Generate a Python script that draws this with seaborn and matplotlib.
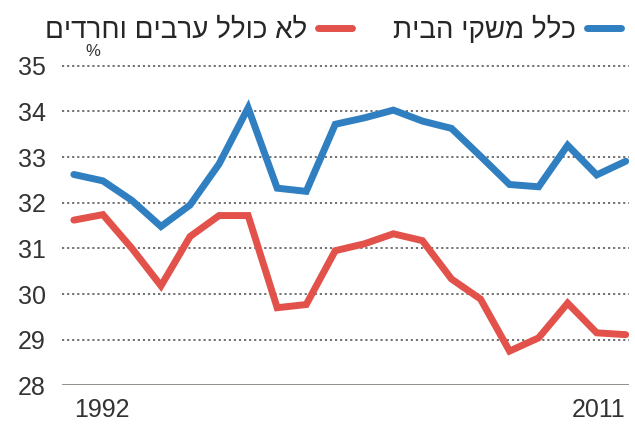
import pandas as pd
import matplotlib.pyplot as plt
import seaborn as sns

# values (percent)
years = list(range(1992, 2012))
all_households = [32.62, 32.48, 32.05, 31.48, 31.95, 32.85, 34.08, 32.32, 32.25, 33.72,
                  33.86, 34.03, 33.79, 33.63, 33.02, 32.40, 32.35, 33.26, 32.61, 32.91]
excl_arabs_haredim = [31.62, 31.74, 31.0, 30.18, 31.26, 31.72, 31.72, 29.70, 29.77, 30.95,
                      31.10, 31.32, 31.17, 30.33, 29.89, 28.75, 29.04, 29.80, 29.15, 29.11]
label_all = 'כלל משקי הבית'
label_excl = 'לא כולל ערבים וחרדים'
y_ticks = [28, 29, 30, 31, 32, 33, 34, 35]


def rtl(s):
    # matplotlib has no bidi support, so flip the Hebrew text by hand
    return s[::-1]


df = pd.DataFrame({
    'year': years * 2,
    'value': all_households + excl_arabs_haredim,
    'series': [rtl(label_all)] * len(years) + [rtl(label_excl)] * len(years),
})

sns.set_style('white')
plt.rcParams['font.family'] = ['Liberation Sans Narrow', 'Liberation Sans', 'DejaVu Sans']

fig = plt.figure(figsize=(6.35, 4.47), dpi=100)
ax = fig.add_axes([0.098, 0.138, 0.892, 0.73])

palette = {rtl(label_all): '#2f7fc1', rtl(label_excl): '#e2514a'}
sns.lineplot(data=df, x='year', y='value', hue='series', palette=palette,
             hue_order=[rtl(label_excl), rtl(label_all)],
             linewidth=5, ax=ax, solid_joinstyle='miter')

ax.set_ylim(28, 35.15)
ax.set_xlim(1991.6, 2011.1)
ax.set_yticks(y_ticks)
ax.set_yticklabels([str(t) for t in y_ticks], fontsize=18, color='#333333')
for t in y_ticks[1:]:
    ax.axhline(t, color='#666666', linestyle=(0, (1.2, 1.6)), linewidth=1.3, zorder=0)
ax.axhline(28, color='#8a8580', linewidth=2, zorder=0)

ax.set_xticks([years[0], years[-1]])
ax.set_xticklabels([str(years[0]), str(years[-1])], fontsize=18, color='#333333')
xt = ax.get_xticklabels()
xt[0].set_horizontalalignment('left')
xt[1].set_horizontalalignment('right')
ax.tick_params(axis='both', length=0)
ax.tick_params(axis='x', pad=9)
ax.tick_params(axis='y', pad=12)
for s in ax.spines.values():
    s.set_visible(False)
ax.set_xlabel('')
ax.set_ylabel('')

ax.text(0.04, 1.0, '%', transform=ax.transAxes, fontsize=12, color='#333333',
        ha='left', va='bottom')

handles, labels = ax.get_legend_handles_labels()
ax.legend(handles, labels, ncol=2, markerfirst=False, frameon=False,
          loc='upper right', bbox_to_anchor=(0.995, 0.99), bbox_transform=fig.transFigure,
          fontsize=20, handlelength=1.2, handletextpad=0.4, columnspacing=1.5,
          borderaxespad=0)

fig.savefig('out.png', dpi=100)
